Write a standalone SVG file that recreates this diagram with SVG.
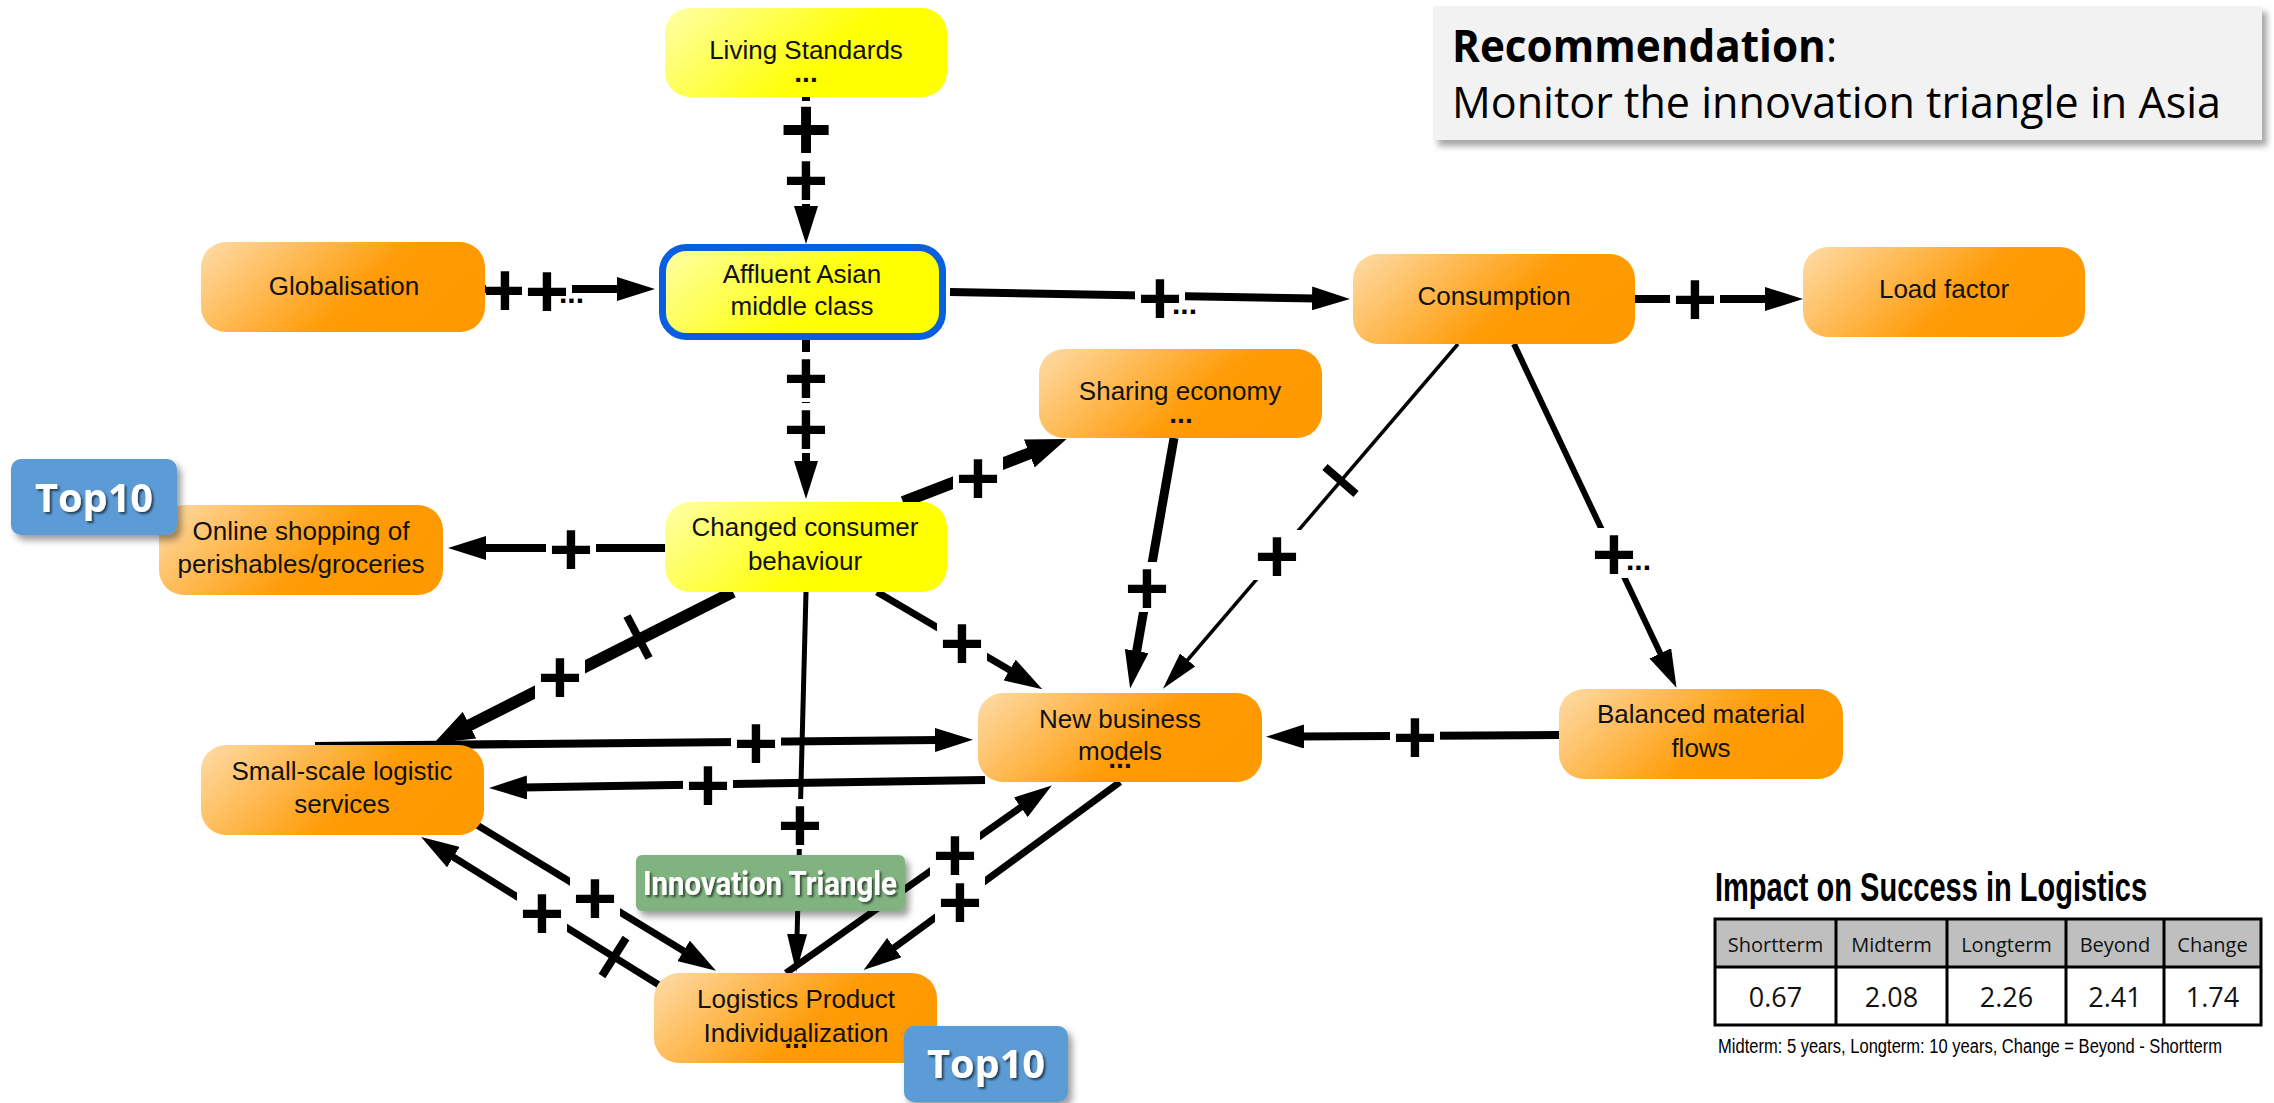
<svg xmlns="http://www.w3.org/2000/svg" width="2274" height="1103" viewBox="0 0 2274 1103">
  <defs>
    <linearGradient id="gOrange" x1="0" y1="0" x2="1" y2="0.35">
      <stop offset="0" stop-color="#fedcaa"/>
      <stop offset="0.68" stop-color="#ff9b06"/>
      <stop offset="1" stop-color="#ff9900"/>
    </linearGradient>
    <linearGradient id="gYellow" x1="0" y1="0" x2="1" y2="0.35">
      <stop offset="0" stop-color="#ffffaa"/>
      <stop offset="0.68" stop-color="#ffff05"/>
      <stop offset="1" stop-color="#ffff00"/>
    </linearGradient>
    <marker id="ah" viewBox="0 0 38 24" refX="4" refY="12" markerWidth="38" markerHeight="24" markerUnits="userSpaceOnUse" orient="auto">
      <path d="M0,0 L38,12 L0,24 Z" fill="#000"/>
    </marker>
    <marker id="ahL" viewBox="0 0 40 30" refX="4" refY="15" markerWidth="40" markerHeight="30" markerUnits="userSpaceOnUse" orient="auto">
      <path d="M0,0 L40,15 L0,30 Z" fill="#000"/>
    </marker>
    <marker id="ahS" viewBox="0 0 38 20" refX="4" refY="10" markerWidth="38" markerHeight="20" markerUnits="userSpaceOnUse" orient="auto">
      <path d="M0,0 L38,10 L0,20 Z" fill="#000"/>
    </marker>
    <filter id="shadow" x="-10%" y="-10%" width="130%" height="140%">
      <feDropShadow dx="5" dy="6" stdDeviation="3" flood-color="#000" flood-opacity="0.35"/>
    </filter>
    <filter id="badgeShadow" x="-15%" y="-15%" width="140%" height="150%">
      <feDropShadow dx="4" dy="5" stdDeviation="3.5" flood-color="#000" flood-opacity="0.4"/>
    </filter>
    <filter id="textShadow" x="-10%" y="-20%" width="120%" height="150%">
      <feDropShadow dx="2" dy="2" stdDeviation="1.2" flood-color="#000" flood-opacity="0.6"/>
    </filter>
  </defs>
  <style>
    .edge { fill: none; stroke: #000; stroke-linecap: butt; }
    .tick { stroke: #000; stroke-width: 8; }
    .lbg { fill: #fff; }
    .pl { font-family: "Liberation Sans", Arial, sans-serif; font-weight: bold; font-size: 76px; text-anchor: middle; dominant-baseline: central; fill: #000; }
    .dots { font-family: "Liberation Sans", Arial, sans-serif; font-weight: bold; font-size: 30px; fill: #000; }
    .orange { fill: url(#gOrange); }
    .yellow { fill: url(#gYellow); }
    .nt { font-family: "Liberation Sans", Arial, sans-serif; font-size: 26px; text-anchor: middle; fill: #111; }
    .nd { font-family: "Liberation Sans", Arial, sans-serif; font-weight: bold; font-size: 28px; text-anchor: middle; fill: #111; }
    .badge { fill: #5b9bd5; }
    .badgeText { font-family: "Open Sans", "Liberation Sans", sans-serif; font-weight: bold; font-size: 40px; text-anchor: middle; fill: #fff; }
    .th { font-family: "Open Sans", "Liberation Sans", sans-serif; font-size: 20px; text-anchor: middle; fill: #111; }
    .tv { font-family: "Open Sans", "Liberation Sans", sans-serif; font-size: 27px; text-anchor: middle; fill: #111; }
  </style>

  <rect width="2274" height="1103" fill="#fff"/>

  <!-- connectors -->
  <g id="connectors">
    <path class="edge" d="M806,97 L806,210" stroke-width="8" marker-end="url(#ah)"/>
    <path class="edge" d="M485,289 L621,289" stroke-width="8" marker-end="url(#ah)"/>
    <path class="edge" d="M950,292 L1316,298.5" stroke-width="8" marker-end="url(#ah)"/>
    <path class="edge" d="M1635,299 L1769,299" stroke-width="8" marker-end="url(#ah)"/>
    <path class="edge" d="M806,340 L806,465" stroke-width="8" marker-end="url(#ah)"/>
    <path class="edge" d="M903,502 L1033,452" stroke-width="12" marker-end="url(#ahL)"/>
    <path class="edge" d="M665,548 L482,548" stroke-width="8" marker-end="url(#ah)"/>
    <path class="edge" d="M733,592 L466,727" stroke-width="12" marker-end="url(#ahL)"/>
    <path class="edge" d="M806,592 L797,938" stroke-width="5" marker-end="url(#ahS)"/>
    <path class="edge" d="M877,592 L1013,672" stroke-width="7" marker-end="url(#ah)"/>
    <path class="edge" d="M1174,438 L1136,655" stroke-width="9" marker-end="url(#ah)"/>
    <path class="edge" d="M1458,344 L1185,663" stroke-width="3.5" marker-end="url(#ahS)"/>
    <path class="edge" d="M1514,344 L1662,657" stroke-width="6" marker-end="url(#ah)"/>
    <path class="edge" d="M1559,735 L1300,736.5" stroke-width="8" marker-end="url(#ah)"/>
    <path class="edge" d="M315,746 L939,740" stroke-width="8" marker-end="url(#ah)"/>
    <path class="edge" d="M985,780 L523,787.5" stroke-width="8" marker-end="url(#ah)"/>
    <path class="edge" d="M477,825 L687,953" stroke-width="7" marker-end="url(#ah)"/>
    <path class="edge" d="M659,985 L450,855" stroke-width="7" marker-end="url(#ah)"/>
    <path class="edge" d="M786,973 L1024,805" stroke-width="7" marker-end="url(#ah)"/>
    <path class="edge" d="M1120,782 L891,950" stroke-width="7" marker-end="url(#ah)"/>

    <!-- delay marks -->
    <line class="tick" x1="627" y1="616" x2="649" y2="658"/>
    <line class="tick" x1="1325" y1="467" x2="1356" y2="494"/>
    <line class="tick" x1="602" y1="976" x2="626" y2="938"/>

    <!-- polarity labels -->
    <rect class="lbg" x="778" y="101" width="56" height="56"/>
    <text class="pl" x="806" y="129" style="font-size:90px">+</text>
    <rect class="lbg" x="781" y="154" width="50" height="50"/>
    <text class="pl" x="806" y="179">+</text>

    <rect class="lbg" x="486" y="264" width="44" height="50"/>
    <text class="pl" x="505" y="289">+</text>
    <rect class="lbg" x="522" y="265" width="50" height="50"/>
    <text class="pl" x="547" y="290">+</text>
    <text class="dots" x="559" y="303">...</text>

    <rect class="lbg" x="1135" y="272" width="50" height="50"/>
    <text class="pl" x="1160" y="297">+</text>
    <text class="dots" x="1172" y="314">...</text>

    <rect class="lbg" x="1670" y="273" width="50" height="50"/>
    <text class="pl" x="1695" y="298">+</text>

    <rect class="lbg" x="781" y="352" width="50" height="50"/>
    <text class="pl" x="806" y="377">+</text>
    <rect class="lbg" x="781" y="403" width="50" height="50"/>
    <text class="pl" x="806" y="428">+</text>

    <rect class="lbg" x="953" y="452" width="50" height="50"/>
    <text class="pl" x="978" y="477">+</text>

    <rect class="lbg" x="546" y="523" width="50" height="50"/>
    <text class="pl" x="571" y="548">+</text>

    <rect class="lbg" x="535" y="651" width="50" height="50"/>
    <text class="pl" x="560" y="676">+</text>

    <rect class="lbg" x="775" y="799" width="50" height="50"/>
    <text class="pl" x="800" y="824">+</text>

    <rect class="lbg" x="937" y="617" width="50" height="50"/>
    <text class="pl" x="962" y="642">+</text>

    <rect class="lbg" x="1122" y="562" width="50" height="50"/>
    <text class="pl" x="1147" y="587">+</text>

    <rect class="lbg" x="1252" y="530" width="50" height="50"/>
    <text class="pl" x="1277" y="555">+</text>

    <rect class="lbg" x="1589" y="528" width="50" height="50"/>
    <text class="pl" x="1614" y="553">+</text>
    <text class="dots" x="1626" y="570">...</text>

    <rect class="lbg" x="1390" y="711" width="50" height="50"/>
    <text class="pl" x="1415" y="736">+</text>

    <rect class="lbg" x="731" y="717" width="50" height="50"/>
    <text class="pl" x="756" y="742">+</text>

    <rect class="lbg" x="683" y="759" width="50" height="50"/>
    <text class="pl" x="708" y="784">+</text>

    <rect class="lbg" x="570" y="872" width="50" height="50"/>
    <text class="pl" x="595" y="897">+</text>

    <rect class="lbg" x="517" y="887" width="50" height="50"/>
    <text class="pl" x="542" y="912">+</text>

    <rect class="lbg" x="930" y="829" width="50" height="50"/>
    <text class="pl" x="955" y="854">+</text>

    <rect class="lbg" x="935" y="876" width="50" height="50"/>
    <text class="pl" x="960" y="901">+</text>
  </g>

  <!-- nodes -->
  <g id="living-standards">
    <rect class="yellow" x="665" y="8" width="282" height="89" rx="25"/>
    <text class="nt" x="806" y="59">Living Standards</text>
    <text class="nd" x="806" y="82">...</text>
  </g>

  <g id="globalisation">
    <rect class="orange" x="201" y="242" width="284" height="90" rx="25"/>
    <text class="nt" x="344" y="295">Globalisation</text>
  </g>

  <g id="affluent-asian-middle-class">
    <rect class="yellow" x="662.5" y="247.5" width="280" height="89" rx="24" stroke="#0a5fe0" stroke-width="7"/>
    <text class="nt" x="802" y="283">Affluent Asian</text>
    <text class="nt" x="802" y="315">middle class</text>
  </g>

  <g id="consumption">
    <rect class="orange" x="1353" y="254" width="282" height="90" rx="25"/>
    <text class="nt" x="1494" y="305">Consumption</text>
  </g>

  <g id="load-factor">
    <rect class="orange" x="1803" y="247" width="282" height="90" rx="25"/>
    <text class="nt" x="1944" y="298">Load factor</text>
  </g>

  <g id="sharing-economy">
    <rect class="orange" x="1039" y="349" width="283" height="89" rx="25"/>
    <text class="nt" x="1180" y="400">Sharing economy</text>
    <text class="nd" x="1181" y="423">...</text>
  </g>

  <g id="changed-consumer-behaviour">
    <rect class="yellow" x="665" y="502" width="282" height="90" rx="25"/>
    <text class="nt" x="805" y="536">Changed consumer</text>
    <text class="nt" x="805" y="570">behaviour</text>
  </g>

  <g id="online-shopping">
    <rect class="orange" x="159" y="505" width="284" height="90" rx="25"/>
    <text class="nt" x="301" y="540">Online shopping of</text>
    <text class="nt" x="301" y="573">perishables/groceries</text>
  </g>

  <g id="new-business-models">
    <rect class="orange" x="978" y="693" width="284" height="89" rx="25"/>
    <text class="nt" x="1120" y="728">New business</text>
    <text class="nt" x="1120" y="760">models</text>
    <text class="nd" x="1120" y="768">...</text>
  </g>

  <g id="balanced-material-flows">
    <rect class="orange" x="1559" y="689" width="284" height="90" rx="25"/>
    <text class="nt" x="1701" y="723">Balanced material</text>
    <text class="nt" x="1701" y="757">flows</text>
  </g>

  <g id="small-scale-logistic-services">
    <rect class="orange" x="201" y="745" width="283" height="90" rx="25"/>
    <text class="nt" x="342" y="780">Small-scale logistic</text>
    <text class="nt" x="342" y="813">services</text>
  </g>

  <g id="logistics-product-individualization">
    <rect class="orange" x="654" y="973" width="283" height="90" rx="25"/>
    <text class="nt" x="796" y="1008">Logistics Product</text>
    <text class="nt" x="796" y="1042">Individualization</text>
    <text class="nd" x="796" y="1048">...</text>
  </g>

  <!-- tags -->
  <g id="innovation-triangle">
    <rect x="636" y="855" width="269" height="56" rx="6" fill="#80b380" filter="url(#badgeShadow)"/>
    <text x="770" y="895" font-family="Roboto, 'Liberation Sans', sans-serif" font-weight="bold" font-size="33" text-anchor="middle" fill="#fff" textLength="254" lengthAdjust="spacingAndGlyphs" filter="url(#textShadow)">Innovation Triangle</text>
  </g>

  <g id="top10-online">
    <rect class="badge" x="11" y="459" width="166" height="76" rx="10" filter="url(#badgeShadow)"/>
    <text class="badgeText" x="94" y="512" textLength="118" lengthAdjust="spacingAndGlyphs" filter="url(#textShadow)">Top10</text>
  </g>

  <g id="top10-logistics">
    <rect class="badge" x="904" y="1026" width="164" height="76" rx="10" filter="url(#badgeShadow)"/>
    <text class="badgeText" x="986" y="1078" textLength="118" lengthAdjust="spacingAndGlyphs" filter="url(#textShadow)">Top10</text>
  </g>

  <!-- recommendation panel -->
  <g id="recommendation">
    <rect x="1433" y="6" width="829" height="134" fill="#f2f2f2" filter="url(#shadow)"/>
    <text x="1452" y="62" font-family="'Open Sans', 'Liberation Sans', sans-serif" font-size="44" fill="#000" textLength="385" lengthAdjust="spacingAndGlyphs"><tspan font-weight="bold">Recommendation</tspan>:</text>
    <text x="1452" y="118" font-family="'Open Sans', 'Liberation Sans', sans-serif" font-size="44" fill="#000" textLength="769" lengthAdjust="spacingAndGlyphs">Monitor the innovation triangle in Asia</text>
  </g>

  <!-- impact table -->
  <g id="impact-table">
    <text transform="matrix(0.725 0 0 1 1715 901)" font-family="'Liberation Sans', Arial, sans-serif" font-weight="bold" font-size="40" fill="#000" textLength="596" lengthAdjust="spacingAndGlyphs">Impact on Success in Logistics</text>
    <rect x="1715" y="919" width="546" height="48" fill="#bfbfbf"/>
    <rect x="1715" y="967" width="546" height="58" fill="#fff"/>
    <g stroke="#000" stroke-width="3" fill="none">
      <rect x="1715" y="919" width="546" height="106"/>
      <line x1="1715" y1="967" x2="2261" y2="967"/>
      <line x1="1836" y1="919" x2="1836" y2="1025"/>
      <line x1="1947" y1="919" x2="1947" y2="1025"/>
      <line x1="2066" y1="919" x2="2066" y2="1025"/>
      <line x1="2164" y1="919" x2="2164" y2="1025"/>
    </g>
    <text class="th" x="1775.5" y="952">Shortterm</text>
    <text class="th" x="1891.5" y="952">Midterm</text>
    <text class="th" x="2006.5" y="952">Longterm</text>
    <text class="th" x="2115" y="952">Beyond</text>
    <text class="th" x="2212.5" y="952">Change</text>
    <text class="tv" x="1775.5" y="1007">0.67</text>
    <text class="tv" x="1891.5" y="1007">2.08</text>
    <text class="tv" x="2006.5" y="1007">2.26</text>
    <text class="tv" x="2115" y="1007">2.41</text>
    <text class="tv" x="2212.5" y="1007">1.74</text>
    <text transform="matrix(0.74 0 0 1 1718 1053)" font-family="'Liberation Sans', Arial, sans-serif" font-size="21" fill="#000" textLength="681" lengthAdjust="spacingAndGlyphs">Midterm: 5 years, Longterm: 10 years, Change = Beyond - Shortterm</text>
  </g>
</svg>
